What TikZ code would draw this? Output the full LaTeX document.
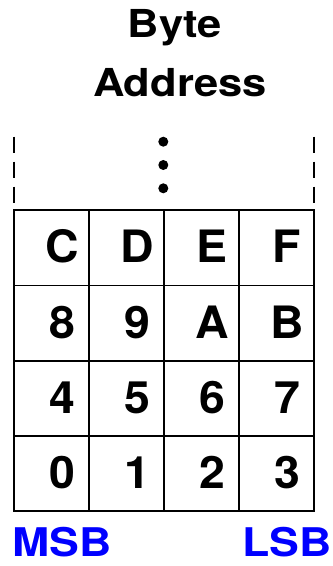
\documentclass[tikz,border=0pt]{standalone}
\usepackage{fontspec}
\setmainfont{TeX Gyre Heros}
\usepackage{graphicx}
\definecolor{lblue}{RGB}{0,0,255}
\newcommand\hsx[2]{\scalebox{#1}[1]{#2}}
\begin{document}
\begin{tikzpicture}[x=1bp,y=-1bp,
  cell/.style={draw=black, line width=1.8bp, minimum width=75bp, minimum height=75.25bp, inner sep=0pt},
  celltext/.style={font=\fontsize{44.6bp}{50bp}\selectfont\bfseries, inner sep=0pt, anchor=base},
  headtext/.style={font=\fontsize{38.5bp}{42bp}\selectfont\bfseries, inner sep=0pt, anchor=base},
  endtext/.style={font=\fontsize{39.5bp}{42bp}\selectfont\bfseries, text=lblue, inner sep=0pt},
  guide/.style={line width=1.6bp, dash pattern=on 16.7bp off 8.3bp},
  dotstyle/.style={circle, fill=black, minimum size=10bp, inner sep=0pt}]
\useasboundingbox (0,0) rectangle (332,566);
\node[headtext] (byte) at (175,37.8) {\hsx{1.13}{Byte}};
\node[headtext] (addr) at (180,97) {\hsx{1.13}{Address}};
\coordinate (lt) at (14,136.7);
\coordinate (lb) at (14,203.3);
\coordinate (rt) at (314,136.7);
\coordinate (rb) at (314,203.3);
\draw[guide] (lt) -- (lb);
\draw[guide] (rt) -- (rb);
\node[dotstyle] (d1) at (163.3,141.7) {};
\node[dotstyle] (d2) at (163.3,165) {};
\node[dotstyle] (d3) at (163.3,188.3) {};
\foreach \t [count=\i from 0] in {C,D,E,F,8,9,A,B,4,5,6,7,0,1,2,3} {
  \pgfmathtruncatemacro\row{\i/4}
  \pgfmathtruncatemacro\col{mod(\i,4)}
  \pgfmathsetmacro\cx{14+75*\col+37.5}
  \pgfmathsetmacro\cy{210.25+75.25*\row+37.625}
  \node[cell] (cell\i) at (\cx,\cy) {};
  \node[celltext] (txt\i) at ([xshift=10.5bp,yshift=23.5bp]cell\i.south) {\hsx{1.04}{\t}};
}
\node[endtext, anchor=base west] (msb) at (12,556.5) {\hsx{1.13}{MSB}};
\node[endtext, anchor=base east] (lsb) at (331.5,556.5) {\hsx{1.13}{LSB}};
\end{tikzpicture}
\end{document}
